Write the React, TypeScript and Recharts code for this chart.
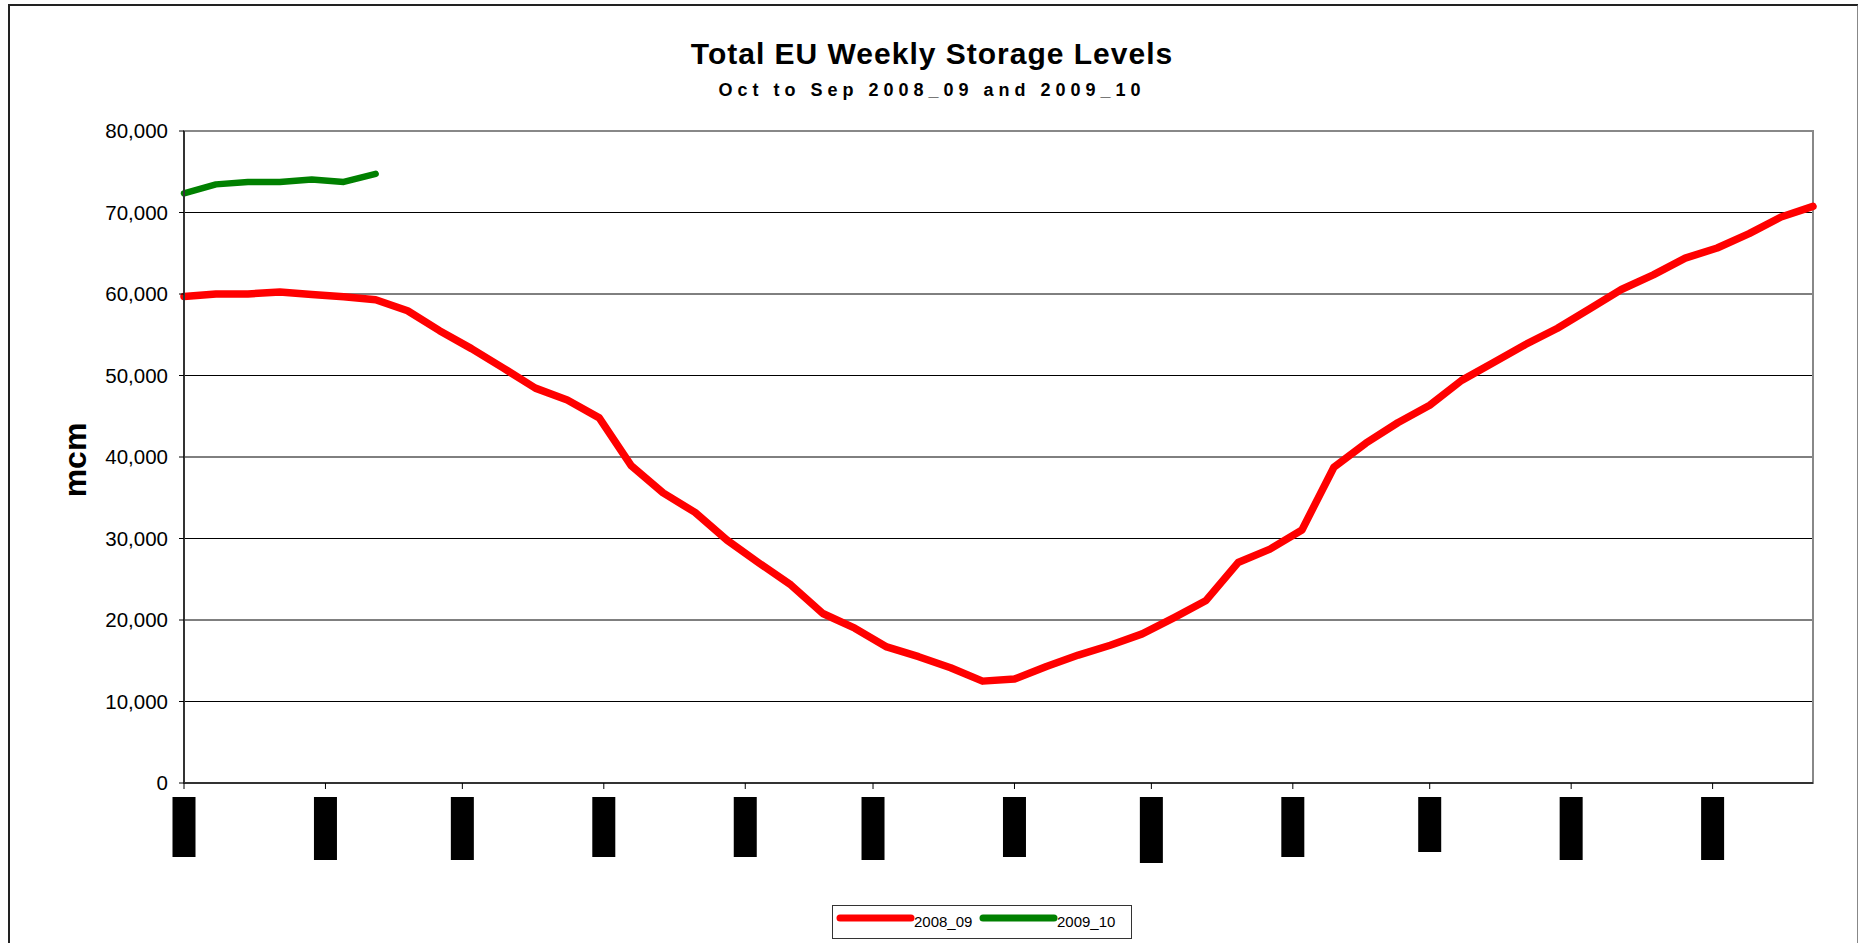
import { LineChart, Line, XAxis, YAxis, CartesianGrid, Legend, ReferenceArea } from 'recharts';

// days since 1 Oct, one point per week
const days = [
  0, 7, 14, 21, 28, 35, 42, 49, 56, 63, 70, 77, 84, 91, 98, 105, 112, 119, 126, 133, 140, 147, 154, 161, 168, 175,
  182, 189, 196, 203, 210, 217, 224, 231, 238, 245, 252, 259, 266, 273, 280, 287, 294, 301, 308, 315, 322, 329, 336,
  343, 350, 357,
];

const storage0809 = [
  59700, 60000, 60000, 60250, 59950, 59650, 59300, 57950, 55500, 53300, 50900, 48450, 47000, 44800, 38950, 35600,
  33200, 29800, 27000, 24300, 20800, 19000, 16700, 15500, 14150, 12500, 12750, 14300, 15700, 16900, 18300, 20300,
  22400, 27050, 28700, 31050, 38750, 41700, 44200, 46350, 49400, 51600, 53800, 55800, 58150, 60550, 62350, 64400,
  65650, 67400, 69450, 70750,
];

const storage0910 = [72350, 73450, 73750, 73750, 74050, 73750, 74750];

const monthTicks = [0, 31, 61, 92, 123, 151, 182, 212, 243, 273, 304, 335];
const monthLabels = ['Oct-08', 'Nov-08', 'Dec-08', 'Jan-09', 'Feb-09', 'Mar-09', 'Apr-09', 'May-09', 'Jun-09', 'Jul-09', 'Aug-09', 'Sep-09'];
const yTicks = [0, 10000, 20000, 30000, 40000, 50000, 60000, 70000, 80000];

const data = days.map((day, i) => ({ day, '2008_09': storage0809[i], '2009_10': storage0910[i] }));

const FONT = '"Liberation Sans", Arial, sans-serif';

// the month labels come out as solid black blocks in the original
const blockHeights = [60, 63, 63, 60, 60, 63, 60, 66, 60, 55, 63, 63];

const MonthBlock = (props: any) => {
  const { x, y, index } = props;
  return (
    <rect x={x - 11.5} y={y} width={23} height={blockHeights[index] ?? 60} fill="#000">
      <title>{monthLabels[index]}</title>
    </rect>
  );
};

const LegendBox = (props: any) => {
  const items = props.payload || [];
  return (
    <svg width={300} height={34} style={{ display: 'block' }}>
      <rect x={0.5} y={0.5} width={299} height={33} fill="#fff" stroke="#333" />
      {items.map((it: any, i: number) => (
        <g key={it.value} transform={`translate(${i * 143}, 0)`}>
          <line x1={8} x2={79} y1={13} y2={13} stroke={it.color} strokeWidth={7} strokeLinecap="round" />
          <text x={82} y={22} fontSize={15} fontFamily={FONT} fill="#000">
            {it.value}
          </text>
        </g>
      ))}
    </svg>
  );
};

export default function App() {
  return (
    <div style={{ position: 'absolute', left: 0, top: 0, width: 1858, height: 943, overflow: 'hidden', background: '#fff' }}>
      <div
        style={{
          position: 'absolute',
          left: 8,
          top: 4,
          width: 1847,
          height: 1000,
          borderTop: '2px solid #222',
          borderLeft: '2px solid #222',
          borderRight: '2px solid #888',
        }}
      />
      <svg width={1858} height={943} style={{ position: 'absolute', left: 0, top: 0 }}>
        <text x={932} y={64} textAnchor="middle" fontFamily={FONT} fontWeight="bold" fontSize={30} letterSpacing={1}>
          Total EU Weekly Storage Levels
        </text>
        <text x={932} y={96} textAnchor="middle" fontFamily={FONT} fontWeight="bold" fontSize={18} letterSpacing={5}>
          Oct to Sep 2008_09 and 2009_10
        </text>
        <text
          transform="translate(86, 460) rotate(-90)"
          textAnchor="middle"
          fontFamily={FONT}
          fontWeight="bold"
          fontSize={32}
        >
          mcm
        </text>
      </svg>
      <div style={{ position: 'absolute', left: 0, top: 0 }}>
        <LineChart width={1858} height={943} data={data} margin={{ top: 131, right: 45, left: 0, bottom: 0 }} style={{ fontFamily: FONT }}>
          <ReferenceArea x1={0} x2={357} y1={0} y2={80000} fill="none" stroke="#888" strokeWidth={2} />
          <CartesianGrid vertical={false} stroke="#000" strokeWidth={1} />
          <XAxis
            dataKey="day"
            type="number"
            domain={[0, 357]}
            ticks={monthTicks}
            interval={0}
            height={160}
            tickSize={6}
            tickMargin={8}
            axisLine={{ stroke: '#333', strokeWidth: 2 }}
            tickLine={{ stroke: '#000' }}
            tick={<MonthBlock />}
          />
          <YAxis
            domain={[0, 80000]}
            ticks={yTicks}
            width={184}
            tickSize={5}
            tickMargin={11}
            axisLine={{ stroke: '#333', strokeWidth: 2 }}
            tickLine={{ stroke: '#000' }}
            tick={{ fill: '#000', fontSize: 20.5, fontFamily: FONT }}
            tickFormatter={(v: number) => v.toLocaleString('en-US')}
          />
          <Legend
            layout="horizontal"
            verticalAlign="middle"
            align="center"
            content={<LegendBox />}
            wrapperStyle={{ position: 'absolute', left: 832, top: 905, width: 300, height: 34 }}
          />
          <Line
            dataKey="2008_09"
            stroke="#ff0000"
            strokeWidth={7.5}
            dot={false}
            strokeLinejoin="round"
            strokeLinecap="round"
            isAnimationActive={false}
          />
          <Line
            dataKey="2009_10"
            stroke="#008000"
            strokeWidth={6.5}
            dot={false}
            strokeLinejoin="round"
            strokeLinecap="round"
            isAnimationActive={false}
          />
        </LineChart>
      </div>
    </div>
  );
}
